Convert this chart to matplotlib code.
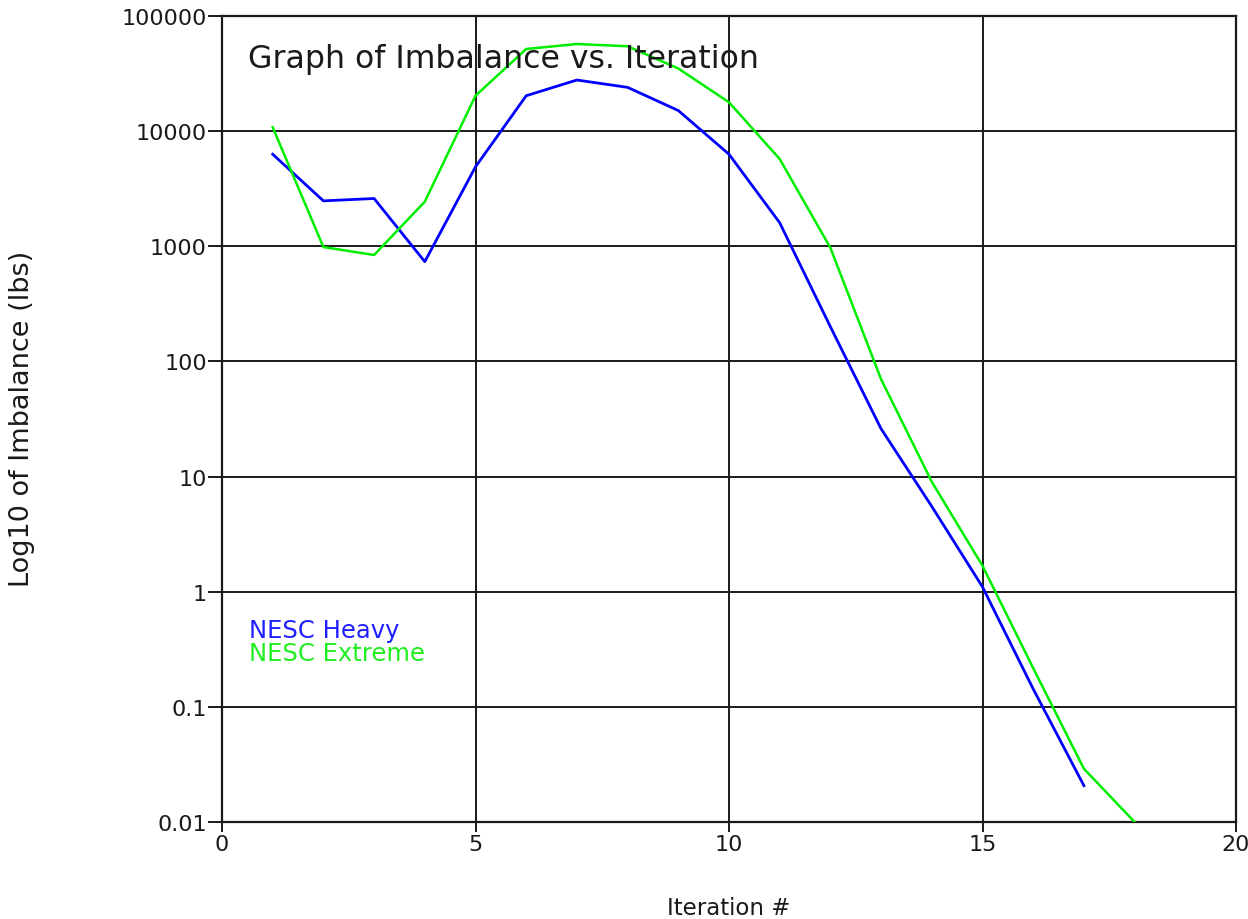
import matplotlib
matplotlib.use("Agg")
import matplotlib.pyplot as plt
from matplotlib.ticker import FixedLocator, NullLocator

plt.rcParams['font.family'] = ['DejaVu Sans']

# Imbalance per solver iteration for the two load cases
iter_heavy = [1, 2, 3, 4, 5, 6, 7, 8, 9, 10, 11, 12, 13, 14, 15, 16, 17]
imb_heavy = [6300, 2480, 2600, 735, 4900, 20300, 27800, 24000, 15100, 6300,
             1600, 200, 26, 5.5, 1.1, 0.143, 0.0207]

iter_extreme = [1, 2, 3, 4, 5, 6, 7, 8, 9, 10, 11, 12, 13, 14, 15, 16, 17, 18]
imb_extreme = [10800, 985, 840, 2440, 20300, 51700, 57100, 54600, 35000, 17800,
               5730, 970, 70, 9, 1.68, 0.217, 0.029, 0.01]

x_ticks = [0, 5, 10, 15, 20]
y_ticks = [0.01, 0.1, 1, 10, 100, 1000, 10000, 100000]
y_tick_labels = ["0.01", "0.1", "1", "10", "100", "1000", "10000", "100000"]

W, H = 1248, 920
fig = plt.figure(figsize=(W / 100, H / 100), dpi=100)
fig.patch.set_facecolor("white")

left, right, top, bottom = 222, 1236, 17, 823
ax = fig.add_axes([left / W, 1 - bottom / H, (right - left) / W, (bottom - top) / H])

ax.set_yscale("log")
ax.set_xlim(0, 20)
ax.set_ylim(0.01, 100000)

ax.xaxis.set_major_locator(FixedLocator(x_ticks))
ax.yaxis.set_major_locator(FixedLocator(y_ticks))
ax.yaxis.set_minor_locator(NullLocator())
ax.set_xticklabels([str(v) for v in x_ticks])
ax.set_yticklabels(y_tick_labels)

ax.grid(True, which="major", color="#1a1a1a", linewidth=1.4)
ax.set_axisbelow(True)
for s in ax.spines.values():
    s.set_color("#1a1a1a")
    s.set_linewidth(1.6)

ax.tick_params(axis="y", length=10, width=1.4, pad=1, labelsize=16, colors="#1a1a1a")
ax.tick_params(axis="x", length=7, width=1.4, pad=2, labelsize=16, colors="#1a1a1a")

ax.plot(iter_heavy, imb_heavy, color="#0000ff", linewidth=2.0, zorder=3)
ax.plot(iter_extreme, imb_extreme, color="#00ee00", linewidth=1.8, zorder=3)

ax.text((248 - left) / (right - left), (bottom - 68) / (bottom - top),
        "Graph of Imbalance vs. Iteration", transform=ax.transAxes,
        fontsize=22.7, color="#1a1a1a", ha="left", va="baseline", zorder=4)

ax.text((249 - left) / (right - left), (bottom - 638) / (bottom - top),
        "NESC Heavy", transform=ax.transAxes, fontsize=17.5, color="#2020ff",
        ha="left", va="baseline", zorder=4)
ax.text((249 - left) / (right - left), (bottom - 661) / (bottom - top),
        "NESC Extreme", transform=ax.transAxes, fontsize=17.5, color="#20ee20",
        ha="left", va="baseline", zorder=4)

fig.text(22 / W, 1 - 418.5 / H, "Log10 of Imbalance (lbs)", rotation=90,
         ha="center", va="center", fontsize=19.5, color="#1a1a1a")
fig.text(729 / W, 1 - 915 / H, "Iteration #", ha="center", va="baseline",
         fontsize=16.5, color="#1a1a1a")

fig.savefig("out.png", dpi=100, facecolor="white")
